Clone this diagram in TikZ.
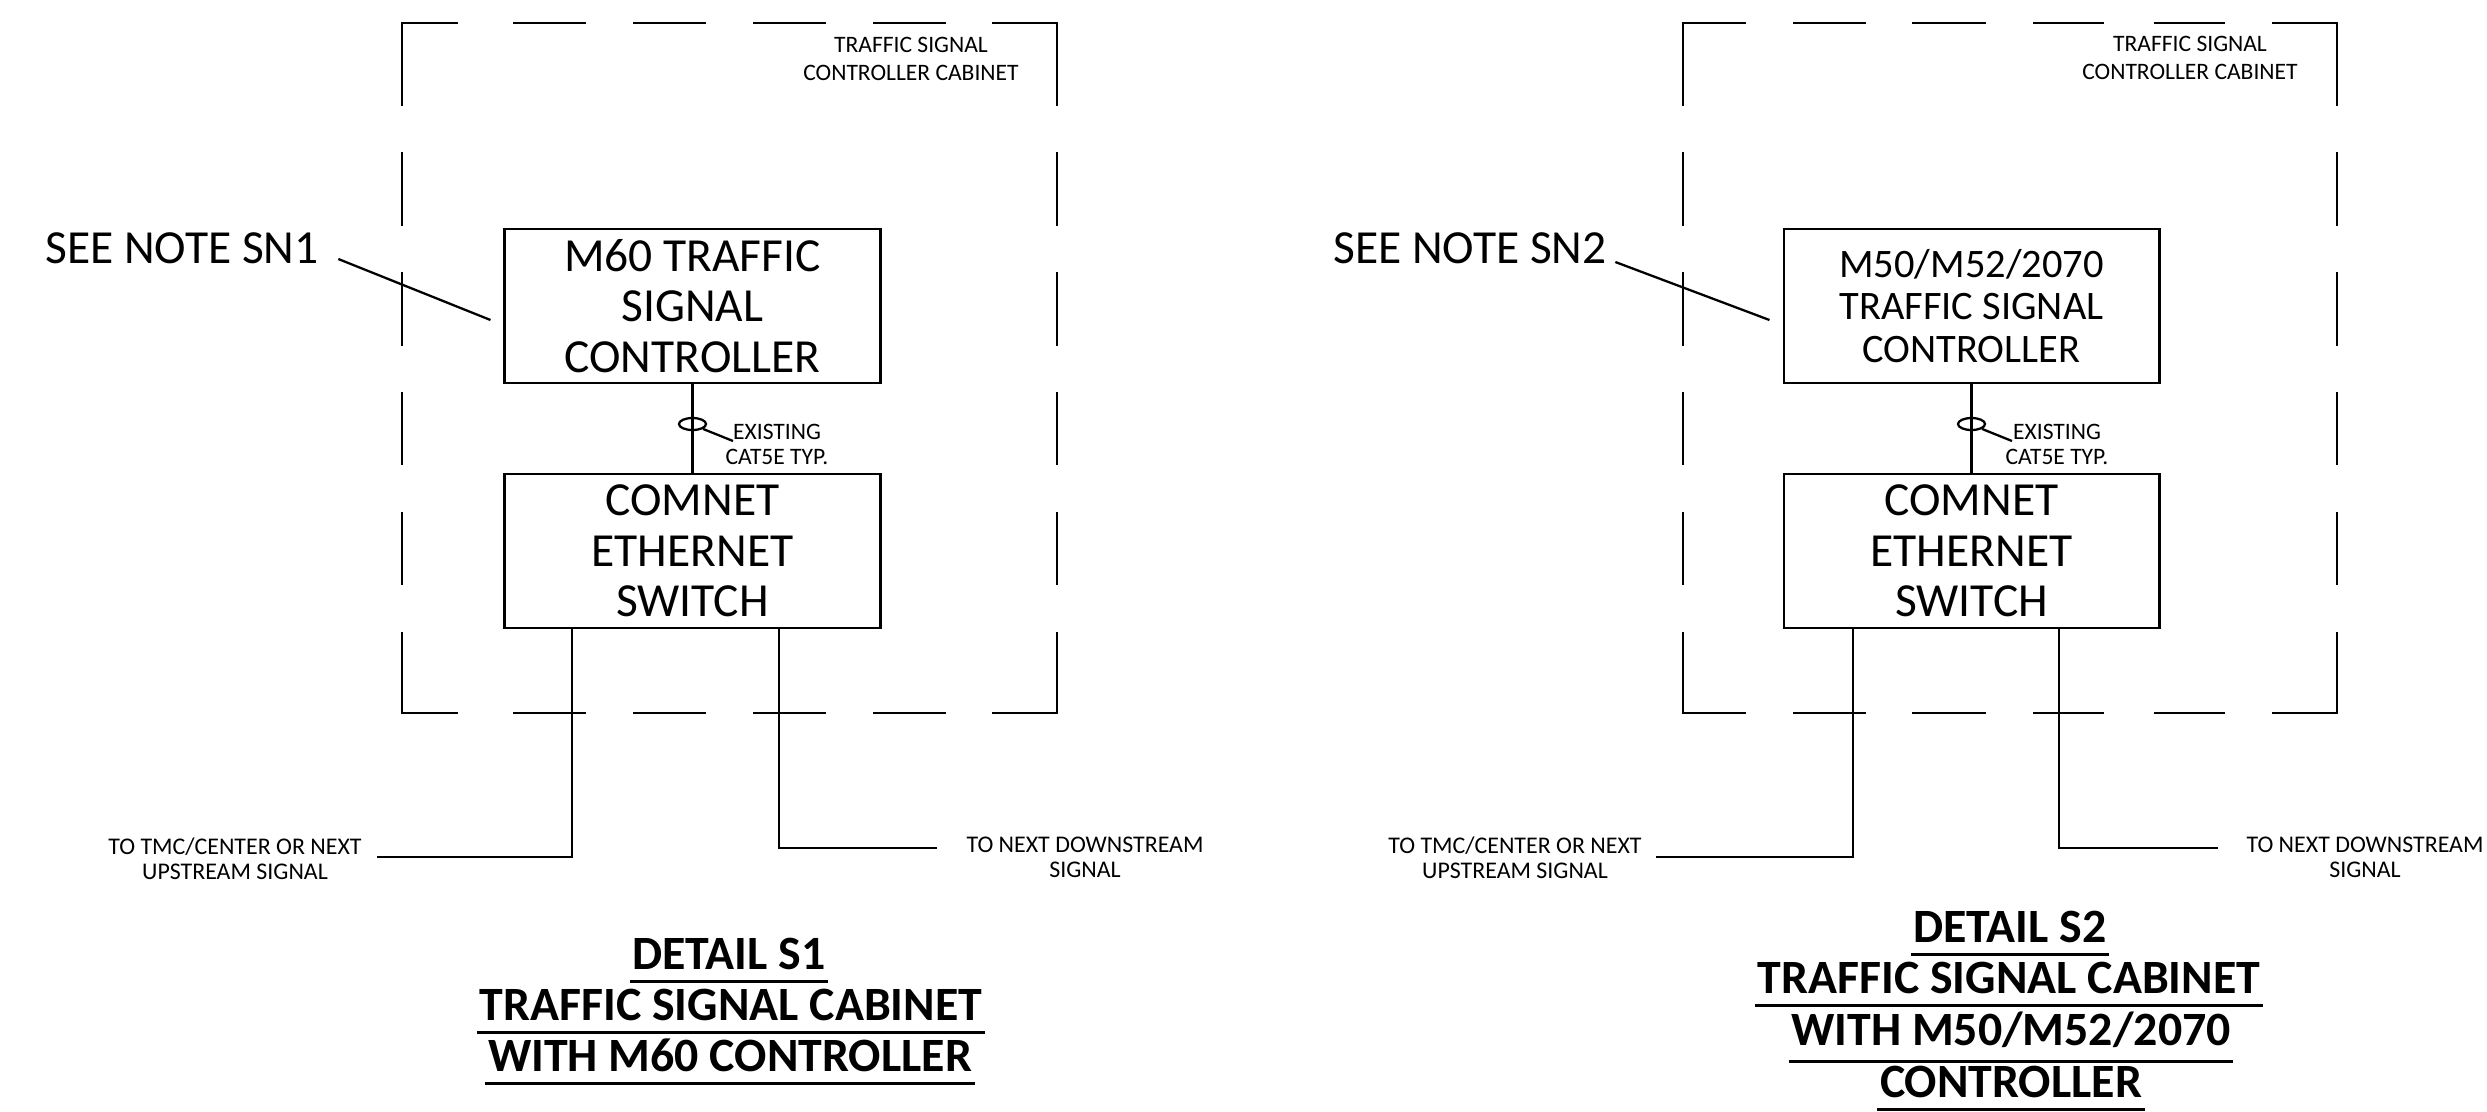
\documentclass[tikz,border=0pt]{standalone}
\usepackage{fontspec}
\setmainfont{Carlito}
\usetikzlibrary{shapes.geometric,calc}
\begin{document}
\begin{tikzpicture}[x=0.01cm,y=-0.01cm,
  ln/.style={line width=0.65pt},
  ul/.style={line width=0.85pt},
  box/.style={draw, line width=0.8pt, minimum width=3.75cm, minimum height=1.54cm, inner sep=0pt, align=center, font=\fontsize{13.5}{14.4}\selectfont},
  cbox/.style={box, font=\fontsize{11.5}{12.2}\selectfont},
  cab/.style={inner sep=0pt, align=center, font=\fontsize{6.7}{8.1}\selectfont},
  exist/.style={inner sep=0pt, align=center, font=\fontsize{6.7}{7.1}\selectfont},
  small/.style={inner sep=0pt, align=center, font=\fontsize{6.8}{7.0}\selectfont},
  note/.style={inner sep=0pt, font=\fontsize{13.5}{14.4}\selectfont},
  ttl/.style={inner sep=0pt, font=\fontsize{13.6}{14.4}\selectfont\bfseries},
  tie/.style={draw, ellipse, line width=0.65pt, minimum width=0.27cm, minimum height=0.12cm, inner sep=0pt}
]
\useasboundingbox (0,0) rectangle (2487,1111);
\fill[white] (0,0) rectangle (2487,1111);

% ---------- left cabinet (dashed) ----------
\draw[ln] (458,23) -- (402,23) -- (402,106);
\draw[ln] (992,23) -- (1057,23) -- (1057,106);
\draw[ln] (402,632) -- (402,713) -- (458,713);
\draw[ln] (992,713) -- (1057,713) -- (1057,632);
\foreach \xa/\xb in {513/586,633/706,753/826,873/946}{
  \draw[ln] (\xa,23) -- (\xb,23);
  \draw[ln] (\xa,713) -- (\xb,713);
}
\foreach \ya/\yb in {152/226,272/346,392/465,512/585}{
  \draw[ln] (402,\ya) -- (402,\yb);
  \draw[ln] (1057,\ya) -- (1057,\yb);
}

% ---------- right cabinet (dashed) ----------
\draw[ln] (1746,23) -- (1683,23) -- (1683,106);
\draw[ln] (2272,23) -- (2337,23) -- (2337,106);
\draw[ln] (1683,632) -- (1683,713) -- (1746,713);
\draw[ln] (2272,713) -- (2337,713) -- (2337,632);
\foreach \xa/\xb in {1793/1866,1912/1986,2033/2104,2154/2225}{
  \draw[ln] (\xa,23) -- (\xb,23);
  \draw[ln] (\xa,713) -- (\xb,713);
}
\foreach \ya/\yb in {152/226,272/346,392/465,512/585}{
  \draw[ln] (1683,\ya) -- (1683,\yb);
  \draw[ln] (2337,\ya) -- (2337,\yb);
}

% ---------- left detail ----------
\node[cab] (cab1) at (911,59) {TRAFFIC SIGNAL\\CONTROLLER CABINET};
\node[box] (ctl1) at (692.5,306) {M60 TRAFFIC\\SIGNAL\\CONTROLLER};
\node[box] (sw1) at (692.5,551) {COMNET\\ETHERNET\\SWITCH};
\draw[ln] (ctl1) -- (sw1);
\node[tie] (e1) at (692.5,424) {};
\node[exist] (ex1) at (777,444) {EXISTING\\CAT5E TYP.};
\coordinate (ex1a) at (733,441);
\draw[ln] (e1.-25) -- (ex1a);
\node[note, anchor=base] (sn1) at (182,263) {SEE NOTE SN1};
\draw[ln] ($(sn1.base east)+(19,-4)$) -- ($(ctl1.west)+(-13,14)$);
\coordinate (a1) at (572,857);
\coordinate (a1e) at (377,857);
\draw[ln] (sw1.south -| a1) -- (a1) -- (a1e);
\coordinate (b1) at (779,848);
\coordinate (b1e) at (937,848);
\draw[ln] (sw1.south -| b1) -- (b1) -- (b1e);
\node[small] (tmc1) at (235,859) {TO TMC/CENTER OR NEXT\\UPSTREAM SIGNAL};
\node[small] (dn1) at (1085,857) {TO NEXT DOWNSTREAM\\SIGNAL};
\node[ttl, anchor=base] (t1a) at (729,969) {DETAIL S1};
\node[ttl, anchor=base] (t1b) at (731,1020) {TRAFFIC SIGNAL CABINET};
\node[ttl, anchor=base] (t1c) at (730,1071) {WITH M60 CONTROLLER};
\foreach \n in {t1a,t1b,t1c}{
  \draw[ul] ($(\n.base west)+(-2,12)$) -- ($(\n.base east)+(2,12)$);
}

% ---------- right detail ----------
\node[cab] (cab2) at (2190,58) {TRAFFIC SIGNAL\\CONTROLLER CABINET};
\node[cbox] (ctl2) at (1971.5,306) {M50/M52/2070\\TRAFFIC SIGNAL\\CONTROLLER};
\node[box] (sw2) at (1971.5,551) {COMNET\\ETHERNET\\SWITCH};
\draw[ln] (ctl2) -- (sw2);
\node[tie] (e2) at (1971.5,424) {};
\node[exist] (ex2) at (2057,444) {EXISTING\\CAT5E TYP.};
\coordinate (ex2a) at (2012,441);
\draw[ln] (e2.-25) -- (ex2a);
\node[note, anchor=base] (sn2) at (1470,263) {SEE NOTE SN2};
\draw[ln] ($(sn2.base east)+(8,-1)$) -- ($(ctl2.west)+(-13,14)$);
\coordinate (a2) at (1853,857);
\coordinate (a2e) at (1656,857);
\draw[ln] (sw2.south -| a2) -- (a2) -- (a2e);
\coordinate (b2) at (2059,848);
\coordinate (b2e) at (2218,848);
\draw[ln] (sw2.south -| b2) -- (b2) -- (b2e);
\node[small] (tmc2) at (1515,858) {TO TMC/CENTER OR NEXT\\UPSTREAM SIGNAL};
\node[small] (dn2) at (2365,857) {TO NEXT DOWNSTREAM\\SIGNAL};
\node[ttl, anchor=base] (t2a) at (2010,942) {DETAIL S2};
\node[ttl, anchor=base] (t2b) at (2009,993) {TRAFFIC SIGNAL CABINET};
\node[ttl, anchor=base] (t2c) at (2011,1045) {WITH M50/M52/2070};
\node[ttl, anchor=base] (t2d) at (2011,1097) {CONTROLLER};
\foreach \n/\d in {t2a/12,t2b/12,t2c/16,t2d/12}{
  \draw[ul] ($(\n.base west)+(-2,\d)$) -- ($(\n.base east)+(2,\d)$);
}
\end{tikzpicture}
\end{document}
